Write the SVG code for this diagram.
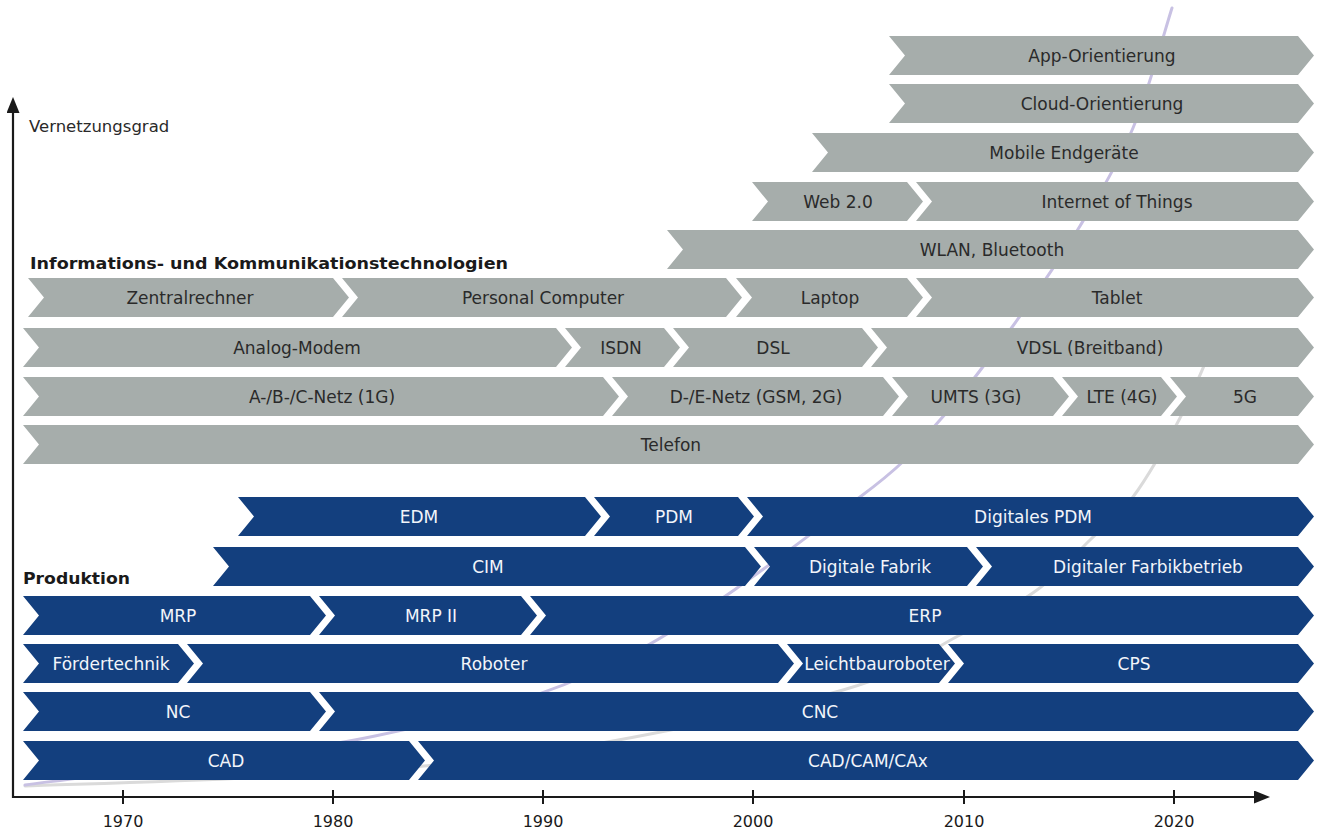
<svg xmlns="http://www.w3.org/2000/svg" width="1317" height="831" viewBox="0 0 1317 831">
  <defs>
    <marker id="arrow" viewBox="0 0 16 13" refX="6" refY="6.5" markerWidth="16" markerHeight="13" markerUnits="userSpaceOnUse" orient="auto">
      <path d="M0 0L16 6.5L0 13z" fill="#1a1a1a"/>
    </marker>
    <style>
      .ict { fill: #a6adab; }
      .prod { fill: #133f7e; }
      .lbl { font-family: "DejaVu Sans", Verdana, sans-serif; font-size: 17px; text-anchor: middle; }
      .ict text { fill: #2a2a2a; }
      .prod text { fill: #f2f5fa; }
      .title { font-family: "DejaVu Sans", Verdana, sans-serif; font-size: 16px; font-weight: bold; fill: #1a1a1a; }
      .axis-label { font-family: "DejaVu Sans", Verdana, sans-serif; font-size: 16.5px; fill: #2a2a2a; }
      .year { font-family: "DejaVu Sans", Verdana, sans-serif; font-size: 16px; fill: #1a1a1a; text-anchor: middle; }
      .axis { stroke: #1a1a1a; stroke-width: 2.2; fill: none; }
      .tick { stroke: #1a1a1a; stroke-width: 2; }
      .trend { fill: none; stroke-width: 3; stroke-linecap: round; }
    </style>
  </defs>

  <rect width="1317" height="831" fill="#ffffff"/>

  <!-- trend curves behind the bands -->
  <g id="trend-curves">
    <path class="trend" stroke="#dadada" d="M25 786C70.8 784.2 210.8 781 300 775C389.2 769 469.5 764.2 560 750C650.5 735.8 776.7 709 843 690C909.3 671 925.7 652.7 958 636C990.3 619.3 1015 606 1037 590C1059 574 1074 555.5 1090 540C1106 524.5 1118 517.3 1133 497C1148 476.7 1166.3 444.2 1180 418C1193.7 391.8 1209.2 353 1215 340"/>
    <path class="trend" stroke="#c8c1e3" d="M25 785C83.3 776.8 275.8 756.8 375 736C474.2 715.2 539.2 699.8 620 660C700.8 620.2 806.7 537 860 497C913.3 457 915 447.8 940 420C965 392.2 986.7 362.3 1010 330C1033.3 297.7 1059.5 259.7 1080 226C1100.5 192.3 1117.7 164.3 1133 128C1148.3 91.7 1165.5 28 1172 8"/>
  </g>

  <!-- axes -->
  <g id="axes">
    <line class="axis" x1="13" y1="798" x2="13" y2="107" marker-end="url(#arrow)"/>
    <line class="axis" x1="12" y1="797" x2="1260" y2="797" marker-end="url(#arrow)"/>
    <line class="tick" x1="123" y1="790" x2="123" y2="804"/>
    <line class="tick" x1="333" y1="790" x2="333" y2="804"/>
    <line class="tick" x1="543" y1="790" x2="543" y2="804"/>
    <line class="tick" x1="753" y1="790" x2="753" y2="804"/>
    <line class="tick" x1="964" y1="790" x2="964" y2="804"/>
    <line class="tick" x1="1174" y1="790" x2="1174" y2="804"/>
    <text class="year" x="123" y="827">1970</text>
    <text class="year" x="333" y="827">1980</text>
    <text class="year" x="543" y="827">1990</text>
    <text class="year" x="753" y="827">2000</text>
    <text class="year" x="964" y="827">2010</text>
    <text class="year" x="1174" y="827">2020</text>
    <text class="axis-label" x="29" y="132">Vernetzungsgrad</text>
  </g>

  <text class="title" x="30" y="269" textLength="478" lengthAdjust="spacingAndGlyphs">Informations- und Kommunikationstechnologien</text>
  <text class="title" x="23" y="584" textLength="107" lengthAdjust="spacingAndGlyphs">Produktion</text>

  <!-- Informations- und Kommunikationstechnologien -->
  <g id="app-orientierung" class="ict"><path d="M889 36H1298l16 19.5-16 19.5H889l16-19.5z"/><text class="lbl" x="1102" y="61.5">App-Orientierung</text></g>
  <g id="cloud-orientierung" class="ict"><path d="M889 84H1298l16 19.5-16 19.5H889l16-19.5z"/><text class="lbl" x="1102" y="109.5">Cloud-Orientierung</text></g>
  <g id="mobile-endgeraete" class="ict"><path d="M812 133H1298l16 19.5-16 19.5H812l16-19.5z"/><text class="lbl" x="1064" y="158.5">Mobile Endgeräte</text></g>
  <g id="web-2-0" class="ict"><path d="M752 182H907l16 19.5-16 19.5H752l16-19.5z"/><text class="lbl" x="838" y="207.5">Web 2.0</text></g>
  <g id="internet-of-things" class="ict"><path d="M916 182H1298l16 19.5-16 19.5H916l16-19.5z"/><text class="lbl" x="1117" y="207.5">Internet of Things</text></g>
  <g id="wlan-bluetooth" class="ict"><path d="M667 230H1298l16 19.5-16 19.5H667l16-19.5z"/><text class="lbl" x="992" y="255.5">WLAN, Bluetooth</text></g>
  <g id="zentralrechner" class="ict"><path d="M28 278H333l16 19.5-16 19.5H28l16-19.5z"/><text class="lbl" x="190" y="304">Zentralrechner</text></g>
  <g id="personal-computer" class="ict"><path d="M342 278H726l16 19.5-16 19.5H342l16-19.5z"/><text class="lbl" x="543" y="304">Personal Computer</text></g>
  <g id="laptop" class="ict"><path d="M736 278H907l16 19.5-16 19.5H736l16-19.5z"/><text class="lbl" x="830" y="304">Laptop</text></g>
  <g id="tablet" class="ict"><path d="M916 278H1298l16 19.5-16 19.5H916l16-19.5z"/><text class="lbl" x="1117" y="304">Tablet</text></g>
  <g id="analog-modem" class="ict"><path d="M23 328H556l16 19.5-16 19.5H23l16-19.5z"/><text class="lbl" x="297" y="354">Analog-Modem</text></g>
  <g id="isdn" class="ict"><path d="M565 328H664l16 19.5-16 19.5H565l16-19.5z"/><text class="lbl" x="621" y="354">ISDN</text></g>
  <g id="dsl" class="ict"><path d="M673 328H862l16 19.5-16 19.5H673l16-19.5z"/><text class="lbl" x="773" y="354">DSL</text></g>
  <g id="vdsl" class="ict"><path d="M871 328H1298l16 19.5-16 19.5H871l16-19.5z"/><text class="lbl" x="1090" y="354">VDSL (Breitband)</text></g>
  <g id="abc-netz" class="ict"><path d="M23 377H603l16 19.5-16 19.5H23l16-19.5z"/><text class="lbl" x="322" y="403">A-/B-/C-Netz (1G)</text></g>
  <g id="de-netz" class="ict"><path d="M612 377H883l16 19.5-16 19.5H612l16-19.5z"/><text class="lbl" x="756" y="403">D-/E-Netz (GSM, 2G)</text></g>
  <g id="umts" class="ict"><path d="M892 377H1053l16 19.5-16 19.5H892l16-19.5z"/><text class="lbl" x="976" y="403">UMTS (3G)</text></g>
  <g id="lte" class="ict"><path d="M1062 377H1161l16 19.5-16 19.5H1062l16-19.5z"/><text class="lbl" x="1122" y="403">LTE (4G)</text></g>
  <g id="5g" class="ict"><path d="M1170 377H1298l16 19.5-16 19.5H1170l16-19.5z"/><text class="lbl" x="1245" y="403">5G</text></g>
  <g id="telefon" class="ict"><path d="M23 425H1298l16 19.5-16 19.5H23l16-19.5z"/><text class="lbl" x="671" y="451">Telefon</text></g>

  <!-- Produktion -->
  <g id="edm" class="prod"><path d="M238 497H585l16 19.5-16 19.5H238l16-19.5z"/><text class="lbl" x="419" y="523">EDM</text></g>
  <g id="pdm" class="prod"><path d="M594 497H738l16 19.5-16 19.5H594l16-19.5z"/><text class="lbl" x="674" y="523">PDM</text></g>
  <g id="digitales-pdm" class="prod"><path d="M747 497H1298l16 19.5-16 19.5H747l16-19.5z"/><text class="lbl" x="1033" y="523">Digitales PDM</text></g>
  <g id="cim" class="prod"><path d="M213 547H745l16 19.5-16 19.5H213l16-19.5z"/><text class="lbl" x="488" y="573">CIM</text></g>
  <g id="digitale-fabrik" class="prod"><path d="M754 547H967l16 19.5-16 19.5H754l16-19.5z"/><text class="lbl" x="870" y="573">Digitale Fabrik</text></g>
  <g id="digitaler-fabrikbetrieb" class="prod"><path d="M976 547H1298l16 19.5-16 19.5H976l16-19.5z"/><text class="lbl" x="1148" y="573">Digitaler Farbikbetrieb</text></g>
  <g id="mrp" class="prod"><path d="M23 596H310l16 19.5-16 19.5H23l16-19.5z"/><text class="lbl" x="178" y="622">MRP</text></g>
  <g id="mrp-ii" class="prod"><path d="M319 596H521l16 19.5-16 19.5H319l16-19.5z"/><text class="lbl" x="431" y="622">MRP II</text></g>
  <g id="erp" class="prod"><path d="M530 596H1298l16 19.5-16 19.5H530l16-19.5z"/><text class="lbl" x="925" y="622">ERP</text></g>
  <g id="foerdertechnik" class="prod"><path d="M23 644H178l16 19.5-16 19.5H23l16-19.5z"/><text class="lbl" x="111" y="670">Fördertechnik</text></g>
  <g id="roboter" class="prod"><path d="M187 644H778l16 19.5-16 19.5H187l16-19.5z"/><text class="lbl" x="494" y="670">Roboter</text></g>
  <g id="leichtbauroboter" class="prod"><path d="M787 644H939l16 19.5-16 19.5H787l16-19.5z"/><text class="lbl" x="877" y="670">Leichtbauroboter</text></g>
  <g id="cps" class="prod"><path d="M948 644H1298l16 19.5-16 19.5H948l16-19.5z"/><text class="lbl" x="1134" y="670">CPS</text></g>
  <g id="nc" class="prod"><path d="M23 692H310l16 19.5-16 19.5H23l16-19.5z"/><text class="lbl" x="178" y="718">NC</text></g>
  <g id="cnc" class="prod"><path d="M319 692H1298l16 19.5-16 19.5H319l16-19.5z"/><text class="lbl" x="820" y="718">CNC</text></g>
  <g id="cad" class="prod"><path d="M23 741H409l16 19.5-16 19.5H23l16-19.5z"/><text class="lbl" x="226" y="767">CAD</text></g>
  <g id="cad-cam-cax" class="prod"><path d="M418 741H1298l16 19.5-16 19.5H418l16-19.5z"/><text class="lbl" x="868" y="767">CAD/CAM/CAx</text></g>
</svg>
